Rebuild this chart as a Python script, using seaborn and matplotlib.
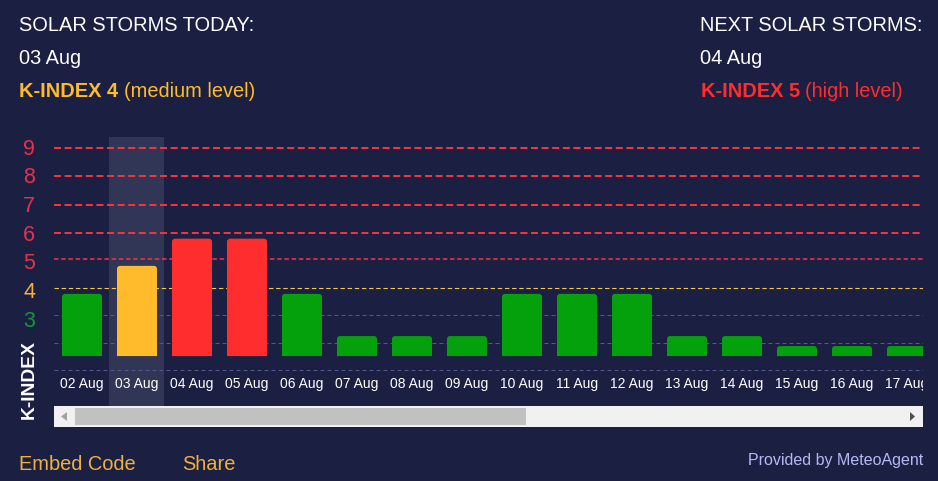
import matplotlib
matplotlib.use("Agg")
import matplotlib.pyplot as plt
import seaborn as sns
import pandas as pd
from matplotlib.path import Path
from matplotlib.patches import PathPatch, Rectangle, Polygon

dates = ["02 Aug","03 Aug","04 Aug","05 Aug","06 Aug","07 Aug","08 Aug","09 Aug",
         "10 Aug","11 Aug","12 Aug","13 Aug","14 Aug","15 Aug","16 Aug","17 Aug"]
# bar tops read against the K-index grid; every bar starts at the same baseline
tops = [3.76,4.77,5.75,5.75,3.76,2.24,2.24,2.24,3.76,3.76,3.76,2.24,2.24,1.88,1.88,1.88]
baseline = 1.52
levels = ["green","yellow","red","red","green","green","green","green",
          "green","green","green","green","green","green","green","green"]
kticks = [9,8,7,6,5,4,3]
kpix = [149,177,206,235,263,292,321]
gridk = [9,8,7,6,5,4,3,2,1]
grid_read = [9.0,8.0,6.97,5.96,5.0,3.96,3.0,2.0,1.0]

W,H = 938,481
BG = "#1b2043"
RED = "#ff2d2d"; YEL = "#ffbb2b"; GRN = "#04a10c"
palette = {"green":GRN,"yellow":YEL,"red":RED}

sns.set_theme(style="dark")
plt.rcParams['font.family'] = ['Liberation Sans','DejaVu Sans']
fig = plt.figure(figsize=((W+0.01)/100,(H+0.01)/100),dpi=100,facecolor=BG)
L,R,T,B = 54,923,137,406
ax = fig.add_axes([L/W,1-B/H,(R-L)/W,(B-T)/H],facecolor=BG)

df = pd.DataFrame({"date":dates,"h":[t-baseline for t in tops],"level":levels})
sns.barplot(data=df,x="date",y="h",hue="level",palette=palette,dodge=False,legend=False,
            width=40/55,bottom=baseline,ax=ax,zorder=3,linewidth=0,saturation=1)
ax.set_xlim((L-82)/55,(R-82)/55)
ax.set_ylim(1+(370.5-B)/27.75,1+(370.5-T)/27.75)
for s in ax.spines.values(): s.set_visible(False)
ax.set_xlabel(""); ax.set_ylabel(""); ax.set_yticks([]); ax.grid(False)

# round the top corners of the bars
rx,ry = 3/55,3/27.75
for p in list(ax.patches):
    x0,y0,w,h = p.get_x(),p.get_y(),p.get_width(),p.get_height()
    if h <= 0: continue
    x1,y1 = x0+w,y0+h
    verts = [(x0,y0),(x0,y1-ry),(x0,y1),(x0+rx,y1),(x1-rx,y1),(x1,y1),(x1,y1-ry),(x1,y0),(x0,y0)]
    codes = [Path.MOVETO,Path.LINETO,Path.CURVE3,Path.CURVE3,Path.LINETO,Path.CURVE3,Path.CURVE3,Path.LINETO,Path.CLOSEPOLY]
    ax.add_patch(PathPatch(Path(verts,codes),facecolor=p.get_facecolor(),edgecolor="none",zorder=3))
    p.remove()

ax.axvspan(dates.index("03 Aug")-0.51,dates.index("03 Aug")+0.49,color="white",alpha=0.1,lw=0,zorder=1)
for k,gy in zip(gridk,grid_read):
    if k>=6:   c,lw,d = "#f5333f",2,(3.5,1.8)
    elif k==5: c,lw,d = "#ff3048",1.5,(3,1.8)
    elif k==4: c,lw,d = "#f5c850",1.1,(4,2.5)
    else:      c,lw,d = "#55568f",1,(4,3)
    ax.axhline(gy,color=c,lw=lw*0.72,ls=(0,d),zorder=2)

ax.set_xticks(range(len(dates)))
ax.set_xticklabels(dates)
ax.tick_params(axis="x",length=0,pad=-20.8,labelsize=10,labelcolor="white")
for lab in ax.get_xticklabels():
    lab.set_clip_on(True); lab.set_clip_box(ax.bbox)

def txt(x,y,s,c="white",fs=14.4,**kw):
    return fig.text(x/W,1-y/H,s,color=c,fontsize=fs,va="center",**kw)

txt(19,25,"SOLAR STORMS TODAY:")
txt(19,58,"03 Aug")
txt(19,91,"K-INDEX 4",YEL,weight="bold")
txt(124,91,"(medium level)",YEL)
txt(700,25,"NEXT SOLAR STORMS:")
txt(700,58,"04 Aug")
txt(701,91,"K-INDEX 5",RED,weight="bold")
txt(805,91,"(high level)",RED)
txt(19,464,"Embed Code","#f0b040",fs=14.4)
txt(182,464,"Share","#f0b040",fs=14.4)
txt(923,460,"Provided by MeteoAgent","#b4b9f5",fs=11.5,ha="right")

for k,py in zip(kticks,kpix):
    c = "#e8304a" if k>=5 else ("#f5b040" if k==4 else "#0f9a3a")
    txt(29,py,str(k),c,fs=15.5,ha="center")
fig.text(29.5/W,1-379/H,"K-INDEX",color="white",fontsize=13.9,weight="bold",rotation=90,ha="center",va="center")

# scrollbar
fig.add_artist(Rectangle((L/W,1-427/H),(R-L)/W,21/H,transform=fig.transFigure,fc="#f1f1f1",ec="none",zorder=5))
fig.add_artist(Rectangle((75/W,1-425/H),451/W,17/H,transform=fig.transFigure,fc="#c1c1c1",ec="none",zorder=6))
fig.add_artist(Polygon([(61/W,1-416.5/H),(67/W,1-412/H),(67/W,1-421/H)],transform=fig.transFigure,fc="#a3a3a3",ec="none",zorder=6))
fig.add_artist(Polygon([(915/W,1-416.5/H),(910/W,1-412/H),(910/W,1-421/H)],transform=fig.transFigure,fc="#505050",ec="none",zorder=6))

fig.savefig("out.png",dpi=100,facecolor=BG)
